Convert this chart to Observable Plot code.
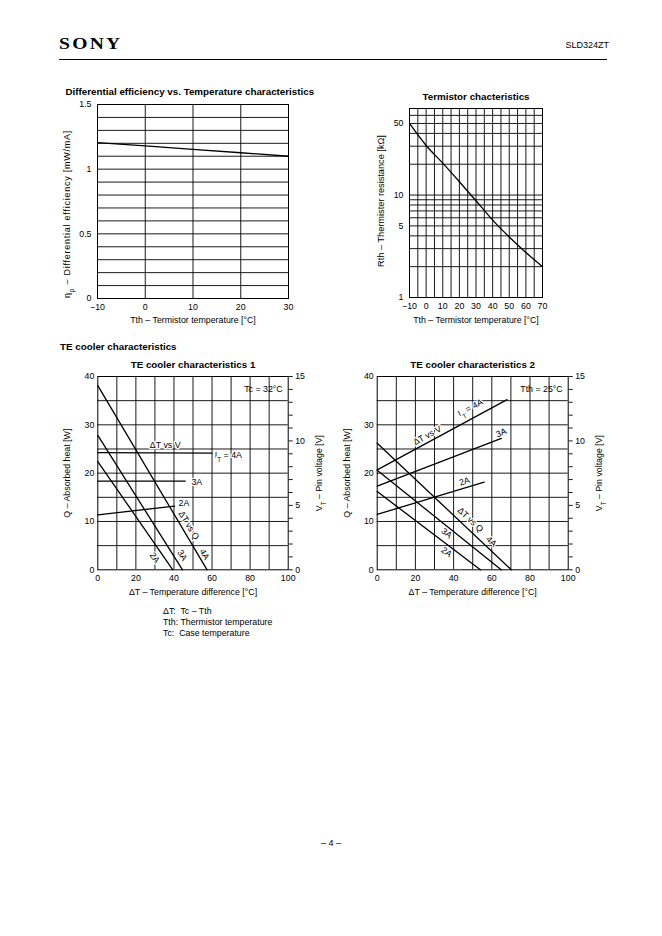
<!DOCTYPE html>
<html><head><meta charset="utf-8">
<script src="https://cdn.jsdelivr.net/npm/d3@7"></script>
<script src="https://cdn.jsdelivr.net/npm/@observablehq/plot@0.6"></script>
<style>
html,body{margin:0;padding:0;background:#fff;}
#page{position:relative;width:662px;height:936px;overflow:hidden;font-family:"Liberation Sans",Arial,Helvetica,sans-serif;color:#000;}
.abs{position:absolute;line-height:1;white-space:pre;}
.chart{position:absolute;}
.chart svg{overflow:visible;display:block;}
</style></head>
<body>
<div id="page">
  <div class="abs" style="left:59px;top:35.4px;font-family:'Liberation Serif','DejaVu Serif',serif;font-weight:bold;font-size:17px;letter-spacing:2px;transform:scaleX(1.15);transform-origin:left center;">SONY</div>
  <div class="abs" style="right:53px;top:40.6px;font-size:9px;">SLD324ZT</div>
  <div style="position:absolute;left:59px;top:58.5px;width:548px;height:1.3px;background:#000;"></div>
  <div class="chart" id="c1" style="left:50px;top:80px;"></div>
  <div class="chart" id="c2" style="left:350px;top:80px;"></div>
  <div class="abs" style="left:60px;top:342.2px;font-size:9.8px;font-weight:bold;">TE cooler characteristics</div>
  <div class="chart" id="c3" style="left:52px;top:352px;"></div>
  <div class="chart" id="c4" style="left:334px;top:352px;"></div>
  <div class="abs" style="left:163px;top:606.3px;font-size:8.8px;line-height:11px;">ΔT:  Tc – Tth
Tth: Thermistor temperature
Tc:  Case temperature</div>
  <div class="abs" style="left:0;width:662px;text-align:center;top:839px;font-size:9px;">– 4 –</div>
</div>
<script>
// ---------- Data ----------
// Differential efficiency vs. temperature
const effTemp = [-10, 0, 10, 20, 30];
const effValue = [1.205, 1.18, 1.153, 1.127, 1.10];
const effXTicks = [-10, 0, 10, 20, 30];
const effYTicks = [0, 0.5, 1, 1.5];
const effYGrid = [0.1, 0.2, 0.3, 0.4, 0.5, 0.6, 0.7, 0.8, 0.9, 1.0, 1.1, 1.2, 1.3, 1.4];

// Thermistor characteristics
const thermTemp = [-10, 0, 10, 20, 30, 40, 50, 60, 70];
const thermRes = [50, 30.5, 20.5, 13.5, 8.8, 5.7, 3.9, 2.75, 2.0];
const thermXTicks = [-10, 0, 10, 20, 30, 40, 50, 60, 70];
const thermGridX = [-5, 0, 5, 10, 15, 20, 25, 30, 35, 40, 45, 50, 55, 60, 65];
const thermYTicks = [1, 5, 10, 50];
const thermGridY = [2, 3, 4, 5, 6, 7, 8, 9, 10, 20, 30, 40, 50, 60];

// TE cooler
const teCurrents = ["2A", "3A", "4A"];
const teXTicks = [0, 20, 40, 60, 80, 100];
const teGridX = [10, 20, 30, 40, 50, 60, 70, 80, 90];
const teQTicks = [0, 10, 20, 30, 40];
const teGridQ = [5, 10, 15, 20, 25, 30, 35];
const teVTicks = [0, 1, 2, 3, 4, 5, 6, 7, 8, 9, 10, 11, 12, 13, 14, 15];
// [ΔT, Q] end points per current (2A, 3A, 4A)
const te1QLines = [[[0, 22.4], [39.4, 0]], [[0, 27.8], [44.5, 0]], [[0, 38.1], [57.4, 0]]];
// [ΔT, V] end points per current
const te1VLines = [[[0, 4.27], [40.3, 4.94]], [[0, 6.88], [45.9, 6.88]], [[0, 9.1], [60, 9.05]]];
const te2QLines = [[[0, 16.2], [54, 0]], [[0, 20.6], [64.9, 0]], [[0, 26.2], [70.2, 0]]];
const te2VLines = [[[0, 4.3], [56, 6.8]], [[0, 6.5], [65, 10.2]], [[0, 7.75], [68, 13.2]]];

// Annotation anchors (label, ΔT, value on its axis, angle)
const te1QNotes = [["ΔT vs Q", 47.8, 9.2, 59], ["4A", 56, 3.2, 59], ["3A", 44.3, 3.0, 58], ["2A", 29.8, 2.5, 55]];
const te1VNotes = [["ΔT vs V", 35.4, 9.64, 0], ["I_{T} = 4A", 68.6, 8.87, 0], ["3A", 52, 6.8, 0], ["2A", 45.2, 5.17, 0]];
const te2QNotes = [["ΔT vs Q", 48.8, 10.35, 43.4], ["4A", 59.7, 5.86, 43.4], ["3A", 36.3, 7.6, 38.7], ["2A", 36.3, 3.65, 37.2]];
const te2VNotes = [["I_{T} = 4A", 48.8, 12.57, -28.6], ["ΔT vs V", 26.2, 10.42, -28.6], ["3A", 64.9, 10.63, -21.8], ["2A", 45.7, 6.85, -17.4]];

// ---------- Helpers ----------
const qPerV = 40 / 15; // left axis 0–40 W corresponds to right axis 0–15 V
const fmtMinus = d => (d < 0 ? "\u2212" + Math.abs(d) : String(d));
const gridStyle = {stroke: "#000", strokeOpacity: 1, strokeWidth: 0.9};
const frameStyle = {stroke: "#000", strokeWidth: 1};
const baseStyle = {fontFamily: '"Liberation Sans", Arial, sans-serif', fontSize: "8.8px", background: "transparent", overflow: "visible", color: "#000"};
const halo = {stroke: "white", strokeWidth: 2.5, fill: "#000"};
const mid = {textAnchor: "middle", lineAnchor: "middle"};

function applySubscripts(root) {
  const NS = "http://www.w3.org/2000/svg";
  const nodes = [...root.querySelectorAll("text, tspan")].filter(n =>
    [...n.childNodes].every(c => c.nodeType === 3) && n.textContent.includes("_{"));
  for (const n of nodes) {
    const s = n.textContent;
    n.textContent = "";
    for (const part of s.split(/(_\{[^}]*\})/)) {
      if (!part) continue;
      const t = document.createElementNS(NS, "tspan");
      if (part.startsWith("_{")) {
        t.setAttribute("font-size", "72%");
        t.setAttribute("baseline-shift", "sub");
        t.textContent = part.slice(2, -1);
      } else {
        t.textContent = part;
      }
      n.appendChild(t);
    }
  }
  return root;
}

// ---------- Chart 1 ----------
const effRows = effTemp.map((t, i) => ({t, v: effValue[i]}));
const c1 = Plot.plot({
  width: 280, height: 250, marginLeft: 47, marginRight: 42, marginTop: 24, marginBottom: 32,
  style: baseStyle,
  x: {domain: [-10, 30]},
  y: {domain: [0, 1.5]},
  marks: [
    Plot.gridX(effXTicks, gridStyle),
    Plot.gridY(effYGrid, gridStyle),
    Plot.frame(frameStyle),
    Plot.axisX(effXTicks, {tickSize: 0, tickPadding: 5, tickFormat: fmtMinus, label: null}),
    Plot.axisY(effYTicks, {tickSize: 0, tickPadding: 6, tickFormat: d => String(d), label: null}),
    Plot.line(effRows, {x: "t", y: "v", stroke: "#000", strokeWidth: 1.3}),
    Plot.text(["Differential efficiency vs. Temperature characteristics"], {frameAnchor: "top-left", textAnchor: "start", lineAnchor: "middle", dx: -32, dy: -13, fontWeight: "bold", fontSize: 9.8}),
    Plot.text(["η_{p} – Differential efficiency [mW/mA]"], {frameAnchor: "left", ...mid, rotate: -90, dx: -30, dy: 12.5, fontSize: 9}),
    Plot.text(["Tth – Termistor temperature [°C]"], {frameAnchor: "bottom", ...mid, dy: 22})
  ]
});
applySubscripts(c1);
c1.querySelectorAll("text").forEach(t => {
  if (t.textContent.includes("Differential efficiency [")) t.style.letterSpacing = "0.75px";
});
document.getElementById("c1").append(c1);

// ---------- Chart 2 ----------
const thermRows = thermTemp.map((t, i) => ({t, r: thermRes[i]}));
const c2 = Plot.plot({
  width: 220, height: 250, marginLeft: 59, marginRight: 28, marginTop: 28, marginBottom: 33,
  style: baseStyle,
  x: {domain: [-10, 70]},
  y: {type: "log", domain: [1, 70], axis: null},
  marks: [
    Plot.gridX(thermGridX, gridStyle),
    Plot.gridY(thermGridY, gridStyle),
    Plot.frame(frameStyle),
    Plot.axisX(thermXTicks, {tickSize: 0, tickPadding: 5, tickFormat: fmtMinus, label: null}),
    Plot.text(thermYTicks, {y: d => d, text: d => String(d), frameAnchor: "left", textAnchor: "end", lineAnchor: "middle", dx: -6}),
    Plot.line(thermRows, {x: "t", y: "r", curve: "monotone-x", stroke: "#000", strokeWidth: 1.3}),
    Plot.text(["Termistor chacteristics"], {frameAnchor: "top", ...mid, dy: -11.3, fontWeight: "bold", fontSize: 9.8}),
    Plot.text(["Rth – Thermister resistance [kΩ]"], {frameAnchor: "left", ...mid, rotate: -90, dx: -28.5, dy: -2, fontSize: 9.2}),
    Plot.text(["Tth – Termistor temperature [°C]"], {frameAnchor: "bottom", ...mid, dy: 23})
  ]
});
document.getElementById("c2").append(applySubscripts(c2));

// ---------- TE cooler charts ----------
function teChart({qLines, vLines, qNotes, vNotes, title, condition, marginLeft, marginRight, dxLeft}) {
  const qRows = qLines.flatMap((pts, i) => pts.map(([dt, q]) => ({current: teCurrents[i], dt, q})));
  const vRows = vLines.flatMap((pts, i) => pts.map(([dt, v]) => ({current: teCurrents[i], dt, v})));
  return Plot.plot({
    width: 282, height: 250, marginLeft, marginRight, marginTop: 24, marginBottom: 32.7,
    style: baseStyle,
    x: {domain: [0, 100]},
    y: {domain: [0, 40]},
    marks: [
      Plot.gridX(teGridX, gridStyle),
      Plot.gridY(teGridQ, gridStyle),
      Plot.frame(frameStyle),
      Plot.axisX(teXTicks, {tickSize: 0, tickPadding: 4.5, tickFormat: d => String(d), label: null}),
      Plot.axisY(teQTicks, {anchor: "left", tickSize: 0, tickPadding: 3.5, tickFormat: d => String(d), label: null}),
      Plot.axisY(teVTicks.map(v => v * qPerV), {anchor: "right", tickSize: 4, tickPadding: 3, strokeWidth: 0.9,
        tickFormat: d => { const v = Math.round(d / qPerV); return v % 5 === 0 ? String(v) : ""; }, label: null}),
      Plot.line(qRows, {x: "dt", y: "q", z: "current", stroke: "#000", strokeWidth: 1.3}),
      Plot.line(vRows, {x: "dt", y: d => d.v * qPerV, z: "current", stroke: "#000", strokeWidth: 1.3}),
      Plot.text(qNotes, {x: d => d[1], y: d => d[2], text: d => d[0], rotate: d => d[3], ...mid, ...halo}),
      Plot.text(vNotes, {x: d => d[1], y: d => d[2] * qPerV, text: d => d[0], rotate: d => d[3], ...mid, ...halo}),
      Plot.text([title], {frameAnchor: "top", ...mid, dy: -12, fontWeight: "bold", fontSize: 9.8}),
      Plot.text([condition], {frameAnchor: "top-right", textAnchor: "end", lineAnchor: "middle", dx: -5.5, dy: 12.5}),
      Plot.text(["Q – Absorbed heat [W]"], {frameAnchor: "left", ...mid, rotate: -90, dx: dxLeft}),
      Plot.text(["V_{T} – Pin voltage [V]"], {frameAnchor: "right", ...mid, rotate: -90, dx: 31.3}),
      Plot.text(["ΔT – Temperature difference [°C]"], {frameAnchor: "bottom", ...mid, dy: 22})
    ]
  });
}

const c3 = teChart({qLines: te1QLines, vLines: te1VLines, qNotes: te1QNotes, vNotes: te1VNotes,
  title: "TE cooler characteristics 1", condition: "Tc = 32°C", marginLeft: 45.3, marginRight: 46.3, dxLeft: -31});
document.getElementById("c3").append(applySubscripts(c3));

const c4 = teChart({qLines: te2QLines, vLines: te2VLines, qNotes: te2QNotes, vNotes: te2VNotes,
  title: "TE cooler characteristics 2", condition: "Tth = 25°C", marginLeft: 42.7, marginRight: 48.3, dxLeft: -30});
document.getElementById("c4").append(applySubscripts(c4));
</script>
</body></html>
